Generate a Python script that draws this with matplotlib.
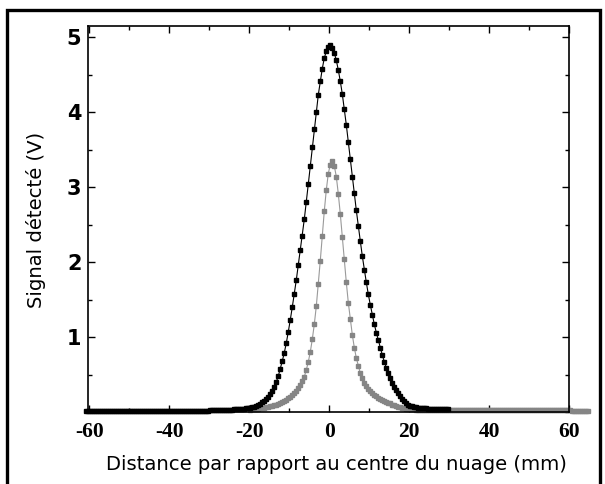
import numpy as np
import matplotlib
matplotlib.use('Agg')
import matplotlib.pyplot as plt
from matplotlib.ticker import MultipleLocator
from matplotlib.patches import Rectangle

black_x0 = -60.75
black_tail = [0.010] * 41
black_rise = [0.010, 0.010, 0.010, 0.011, 0.011, 0.011, 0.012, 0.012, 0.012, 0.013,
              0.013, 0.014, 0.014, 0.015, 0.015, 0.016, 0.016, 0.017, 0.018, 0.019,
              0.020, 0.021, 0.022, 0.023, 0.024, 0.025, 0.026, 0.027, 0.028, 0.029,
              0.030, 0.031, 0.032, 0.034, 0.035, 0.037, 0.039, 0.041, 0.044, 0.047]
black_peak = [0.050, 0.056, 0.064, 0.073, 0.084, 0.097, 0.112, 0.130, 0.150, 0.175,
              0.205, 0.240, 0.285, 0.335, 0.40, 0.48, 0.58, 0.68, 0.79, 0.92,
              1.07, 1.23, 1.40, 1.58, 1.76, 1.96, 2.16, 2.35, 2.57, 2.80,
              3.04, 3.28, 3.53, 3.77, 4.00, 4.23, 4.41, 4.58, 4.72, 4.81,
              4.87, 4.89, 4.86, 4.79, 4.69, 4.56, 4.41, 4.24, 4.04, 3.83,
              3.60, 3.37, 3.14, 2.92, 2.69, 2.48, 2.28, 2.08, 1.90, 1.73,
              1.57, 1.43, 1.30, 1.17, 1.06, 0.96, 0.86, 0.76, 0.67, 0.59,
              0.52, 0.45, 0.39, 0.34, 0.29, 0.25, 0.21, 0.175, 0.145, 0.12,
              0.100, 0.085, 0.075, 0.068, 0.062, 0.058, 0.055, 0.052, 0.050, 0.048,
              0.046, 0.045, 0.044, 0.043, 0.042, 0.041, 0.040, 0.039, 0.038, 0.037,
              0.036]
black_y = np.array(black_tail + black_rise + black_peak)

grey_x0 = -19.75
grey_peak = [0.032, 0.034, 0.037, 0.040, 0.043, 0.047, 0.051, 0.056, 0.062, 0.068,
             0.075, 0.082, 0.090, 0.100, 0.110, 0.120, 0.135, 0.150, 0.165, 0.185,
             0.205, 0.230, 0.255, 0.285, 0.320, 0.360, 0.41, 0.47, 0.56, 0.67,
             0.80, 0.97, 1.17, 1.41, 1.71, 2.02, 2.35, 2.68, 2.96, 3.18,
             3.30, 3.35, 3.28, 3.14, 2.91, 2.64, 2.34, 2.04, 1.73, 1.46,
             1.24, 1.03, 0.86, 0.72, 0.62, 0.52, 0.45, 0.39, 0.35, 0.31,
             0.28, 0.25, 0.23, 0.21, 0.19, 0.175, 0.16, 0.15, 0.14, 0.125,
             0.115, 0.100, 0.090, 0.080, 0.072, 0.064, 0.057, 0.051, 0.046, 0.042,
             0.039, 0.036, 0.034, 0.032, 0.031, 0.030]
grey_tail = [0.030, 0.030, 0.029, 0.029, 0.029, 0.029, 0.028, 0.028, 0.028, 0.028,
             0.028, 0.027, 0.027, 0.027, 0.027, 0.027, 0.026, 0.026, 0.026, 0.026,
             0.026, 0.026] + [0.025] * 11 + [0.024] * 11 + [0.023] * 11 + \
            [0.022] * 11 + [0.021] * 9 + [0.020] * 9
grey_y = np.array(grey_peak + grey_tail)

black_x = black_x0 + 0.5 * np.arange(len(black_y))
grey_x = grey_x0 + 0.5 * np.arange(len(grey_y))

xticks = [-60, -40, -20, 0, 20, 40, 60]
yticks = [1, 2, 3, 4, 5]

W, H = 605, 484
fig = plt.figure(figsize=(W / 100, H / 100), dpi=100)
fig.patch.set_facecolor('white')

# outer frame of the picture
fig.patches.append(Rectangle((6.5 / W, -0.05), (600 - 6.5) / W, 1.05 - 9.5 / H,
                             transform=fig.transFigure, fill=False,
                             edgecolor='black', lw=2.4))

ax = fig.add_axes([87.7 / W, (H - 412) / H, (569.3 - 87.7) / W, (412 - 26) / H])

ax.plot(grey_x, grey_y, color='#9a9a9a', lw=0.8, marker='s', ms=3.3,
        mfc='#858585', mec='#858585', clip_on=False, zorder=2.0)
ax.plot(black_x, black_y, color='black', lw=0.8, marker='s', ms=3.4,
        mfc='black', mec='black', clip_on=False, zorder=2.1)

ax.set_xlim(-60.4, 60)
ax.set_ylim(0, 5.147)
ax.set_xticks(xticks)
ax.set_yticks(yticks)
ax.xaxis.set_minor_locator(MultipleLocator(10))
ax.yaxis.set_minor_locator(MultipleLocator(0.5))
ax.tick_params(which='both', direction='in', top=True, right=True, width=1.0)
ax.tick_params(which='major', length=5.0)
ax.tick_params(which='minor', length=3.2)
ax.tick_params(axis='x', pad=7)
ax.tick_params(axis='y', pad=4.5)
for s in ax.spines.values():
    s.set_linewidth(1.2)

ax.set_xticklabels([str(t) for t in xticks], fontfamily='Liberation Serif',
                   fontweight='bold', fontsize=15.5)
ax.set_yticklabels([str(t) for t in yticks], fontfamily='DejaVu Sans',
                   fontweight='bold', fontsize=15)

fig.text(336 / W, 1 - 465 / H, 'Distance par rapport au centre du nuage (mm)',
         ha='center', va='center', fontfamily='DejaVu Sans', fontsize=14.1)
fig.text(36 / W, 1 - 220 / H, 'Signal détecté (V)', rotation=90,
         ha='center', va='center', fontfamily='DejaVu Sans', fontsize=14.1)

fig.savefig('out.png', dpi=100)
